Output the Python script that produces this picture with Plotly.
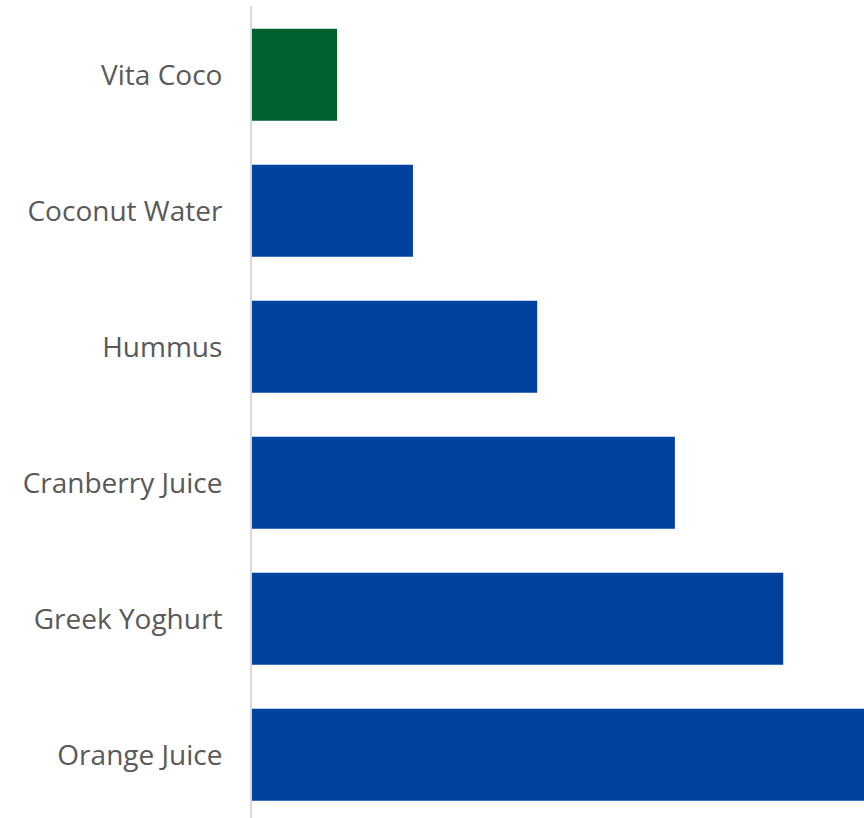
import plotly.graph_objects as go

categories = ["Vita Coco", "Coconut Water", "Hummus", "Cranberry Juice", "Greek Yoghurt", "Orange Juice"]
values = [13.9, 26.3, 46.6, 69.1, 86.8, 100.0]
colors = ["#00612E", "#0041A0", "#0041A0", "#0041A0", "#0041A0", "#0041A0"]

fig = go.Figure(go.Bar(
    y=categories, x=values, orientation="h",
    marker=dict(color=colors, line=dict(width=0)),
    hoverinfo="skip",
))

fig.update_layout(
    width=864, height=818,
    margin=dict(l=252, r=0, t=6, b=0),
    paper_bgcolor="white", plot_bgcolor="white",
    bargap=0.3235,
    showlegend=False,
    font=dict(family="Open Sans", size=28, color="#595959"),
)
fig.update_xaxes(range=[0, 100], visible=False, showgrid=False, zeroline=False)
fig.update_yaxes(
    range=[5.465, -0.505], showgrid=False, zeroline=False,
    showline=True, linecolor="#d9d9d9", linewidth=2,
    ticks="", ticklabelstandoff=22,
    tickfont=dict(family="Open Sans", size=28, color="#595959"),
)

fig.write_html("out.html")
